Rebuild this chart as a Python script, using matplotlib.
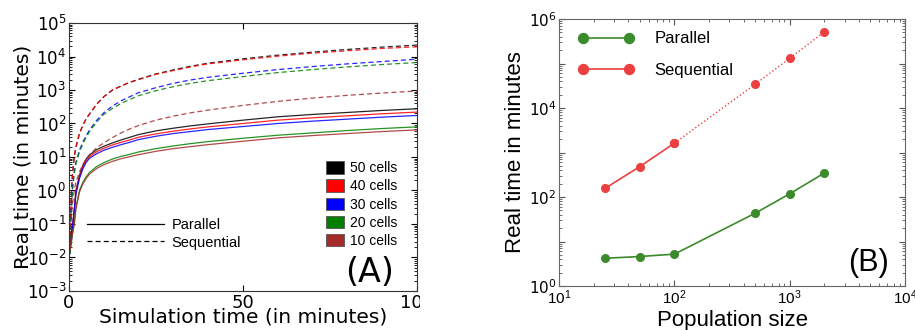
import numpy as np
import matplotlib
matplotlib.use('Agg')
import matplotlib.pyplot as plt
from matplotlib.lines import Line2D
from matplotlib.patches import Patch
from matplotlib.ticker import LogLocator, NullFormatter, FixedLocator, FuncFormatter
from matplotlib.transforms import Bbox, TransformedBbox

# ---- Panel A: real time vs simulation time (values read as log10 of minutes)
sim_time = [0.3, 0.6, 1, 1.5, 2, 3, 4, 5, 6, 8, 10, 12.5, 15, 17.5, 20, 25, 30, 35, 40, 50, 60, 70, 80, 90, 100]

seq_50 = [-1.6, -0.3, 0.5, 1.0, 1.3, 1.7, 1.95, 2.15, 2.3, 2.58, 2.8, 3.0, 3.12, 3.23, 3.32, 3.48, 3.6, 3.71, 3.8, 3.93, 4.04, 4.13, 4.21, 4.28, 4.34]
seq_40 = [-1.6, -0.3, 0.5, 1.0, 1.3, 1.7, 1.95, 2.15, 2.3, 2.58, 2.8, 3.0, 3.12, 3.23, 3.31, 3.47, 3.58, 3.69, 3.78, 3.9, 4.01, 4.1, 4.17, 4.24, 4.29]
seq_30 = [-1.9, -0.6, 0.1, 0.55, 0.85, 1.2, 1.45, 1.65, 1.82, 2.1, 2.32, 2.52, 2.68, 2.8, 2.92, 3.07, 3.2, 3.3, 3.38, 3.5, 3.61, 3.7, 3.78, 3.85, 3.92]
seq_20 = [-1.9, -0.7, 0.0, 0.5, 0.8, 1.15, 1.4, 1.6, 1.77, 2.05, 2.27, 2.45, 2.6, 2.72, 2.83, 2.98, 3.1, 3.2, 3.28, 3.4, 3.52, 3.61, 3.69, 3.76, 3.82]
seq_10 = [-1.6, -0.9, -0.4, 0.0, 0.25, 0.55, 0.78, 0.95, 1.08, 1.28, 1.42, 1.58, 1.72, 1.84, 1.94, 2.1, 2.22, 2.32, 2.4, 2.54, 2.66, 2.76, 2.84, 2.91, 2.97]

par_50 = [-1.8, -1.4, -1.1, -0.6, 0.0, 0.45, 0.75, 0.95, 1.07, 1.22, 1.32, 1.42, 1.51, 1.59, 1.67, 1.78, 1.86, 1.93, 1.99, 2.1, 2.2, 2.27, 2.33, 2.39, 2.44]
par_40 = [-1.8, -1.4, -1.1, -0.6, -0.05, 0.4, 0.7, 0.9, 1.02, 1.16, 1.26, 1.36, 1.44, 1.51, 1.59, 1.69, 1.77, 1.84, 1.9, 2.0, 2.1, 2.17, 2.23, 2.29, 2.34]
par_30 = [-1.8, -1.4, -1.1, -0.6, -0.1, 0.35, 0.65, 0.85, 0.97, 1.1, 1.2, 1.29, 1.37, 1.44, 1.52, 1.62, 1.7, 1.76, 1.82, 1.91, 2.0, 2.07, 2.13, 2.19, 2.24]
par_20 = [-1.8, -1.6, -1.3, -1.0, -0.5, 0.0, 0.25, 0.42, 0.55, 0.72, 0.83, 0.94, 1.02, 1.08, 1.15, 1.25, 1.33, 1.4, 1.46, 1.56, 1.65, 1.72, 1.79, 1.85, 1.9]
par_10 = [-1.8, -1.6, -1.3, -1.0, -0.55, -0.05, 0.2, 0.37, 0.5, 0.66, 0.77, 0.87, 0.95, 1.01, 1.07, 1.17, 1.25, 1.31, 1.37, 1.47, 1.57, 1.64, 1.7, 1.76, 1.81]

cell_labels = ['50 cells', '40 cells', '30 cells', '20 cells', '10 cells']
cell_colors = ['black', 'red', 'blue', 'green', 'brown']

# ---- Panel B: real time vs population size
pop_size = [25, 50, 100, 500, 1000, 2000]
par_time = [4.2, 4.6, 5.2, 43, 118, 347]
seq_time = [156, 480, 1620, 34000, 131000, 515000]

plt.rcParams['font.family'] = ['DejaVu Sans']
fig = plt.figure(figsize=(9.15, 3.3), dpi=100)

# ---------------- Panel A
axA = fig.add_axes([0.0754, 0.1182, 0.3803, 0.8121])
seq_all = [seq_50, seq_40, seq_30, seq_20, seq_10]
par_all = [par_50, par_40, par_30, par_20, par_10]
for s, p, c in zip(seq_all, par_all, cell_colors):
    axA.plot(sim_time, 10 ** np.array(s), color=c, lw=0.9, ls=(0, (4, 2.5)), alpha=0.85)
    axA.plot(sim_time, 10 ** np.array(p), color=c, lw=0.9, alpha=0.85)

axA.set_yscale('log')
axA.set_xlim(0, 100)
axA.set_ylim(1e-3, 1e5)
axA.xaxis.set_major_locator(FixedLocator([0, 50, 100]))
axA.yaxis.set_major_locator(LogLocator(base=10, numticks=20))
axA.yaxis.set_minor_locator(LogLocator(base=10, subs=np.arange(2, 10), numticks=20))
axA.yaxis.set_minor_formatter(NullFormatter())
axA.tick_params(which='both', direction='in', top=True, right=True, labelsize=12, pad=2)
axA.tick_params(which='major', length=4)
axA.tick_params(which='minor', length=2)
axA.tick_params(axis='x', labelsize=13)
for sp in axA.spines.values():
    sp.set_color('#333333')
axA.set_xlabel('Simulation time (in minutes)', fontsize=14.5, labelpad=-3)
axA.set_ylabel('Real time (in minutes)', fontsize=14.5, labelpad=-4)

# the left panel is cut off just past its right spine
clip = TransformedBbox(Bbox([[0, 0], [420 / 915, 1]]), fig.transFigure)
for lab in axA.get_xticklabels():
    lab.set_clip_on(True)
    lab.set_clip_box(clip)

style_handles = [Line2D([], [], color='black', lw=0.9),
                 Line2D([], [], color='black', lw=0.9, ls=(0, (4, 2.5)))]
leg1 = axA.legend(style_handles, ['Parallel', 'Sequential'], loc='upper left',
                  bbox_to_anchor=(0.03, 0.30), frameon=False, borderpad=0,
                  handlelength=5.3, handletextpad=0.5, labelspacing=0.25,
                  prop={'family': 'Liberation Sans', 'size': 10.5})
axA.add_artist(leg1)
color_handles = [Patch(facecolor=c, edgecolor='#555555', lw=0.6) for c in cell_colors]
axA.legend(color_handles, cell_labels, loc='upper left', bbox_to_anchor=(0.72, 0.51),
           frameon=False, borderpad=0, handlelength=1.25, handleheight=1.0,
           handletextpad=0.45, labelspacing=0.3,
           prop={'family': 'Liberation Sans', 'size': 10})
axA.text(0.865, 0.07, '(A)', transform=axA.transAxes, fontsize=24, ha='center', va='center')

# ---------------- Panel B
axB = fig.add_axes([0.611, 0.1333, 0.3781, 0.8091])
green = '#3b8a2c'
red = '#ec4040'
axB.plot(pop_size, par_time, color=green, lw=1.2, marker='o', ms=5.5, mec=green, label='Parallel')
axB.plot(pop_size[:3], seq_time[:3], color=red, lw=1.2, marker='o', ms=5.5, mec=red, label='Sequential')
axB.plot(pop_size[2:], seq_time[2:], color=red, lw=1.0, ls=':', marker='o', ms=5.5, mec=red)

axB.set_xscale('log')
axB.set_yscale('log')
axB.set_xlim(10, 1e4)
axB.set_ylim(1, 1e6)
axB.xaxis.set_major_locator(LogLocator(base=10, numticks=10))
axB.yaxis.set_major_locator(LogLocator(base=10, numticks=10))
axB.yaxis.set_major_formatter(FuncFormatter(
    lambda v, pos: '$10^{%d}$' % round(np.log10(v)) if round(np.log10(v)) % 2 == 0 else ''))
for ax_ in (axB.xaxis, axB.yaxis):
    ax_.set_minor_locator(LogLocator(base=10, subs=np.arange(2, 10), numticks=10))
    ax_.set_minor_formatter(NullFormatter())
axB.tick_params(which='both', direction='in', top=True, right=True, labelsize=11, pad=2,
                colors='#555555', labelcolor='black')
axB.tick_params(which='major', length=4)
axB.tick_params(which='minor', length=2)
for lab in axB.get_xticklabels() + axB.get_yticklabels():
    lab.set_family('Liberation Sans')
for sp in axB.spines.values():
    sp.set_color('#666666')
axB.set_xlabel('Population size', fontsize=16, family='Liberation Sans', labelpad=2)
axB.set_ylabel('Real time in minutes', fontsize=16, family='Liberation Sans', labelpad=2)
axB.legend(loc='upper left', bbox_to_anchor=(0.03, 0.985), frameon=False, borderpad=0,
           numpoints=2, markerscale=1.3, handlelength=3.4, handletextpad=1.2, labelspacing=1.0,
           prop={'family': 'Liberation Sans', 'size': 12})
axB.text(0.895, 0.085, '(B)', transform=axB.transAxes, fontsize=22, family='Liberation Sans',
         ha='center', va='center')

fig.savefig('out.png', dpi=100)
